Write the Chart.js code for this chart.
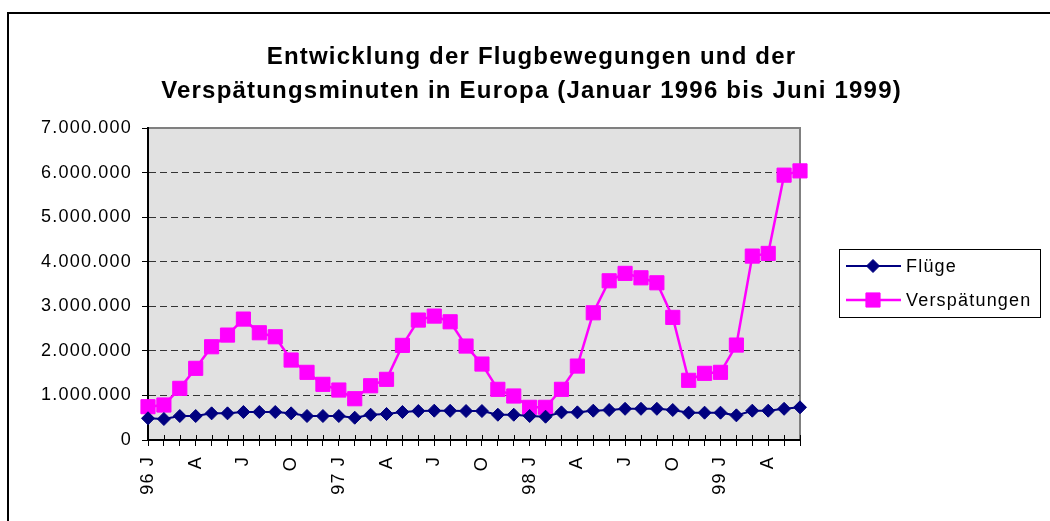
<!DOCTYPE html>
<html>
<head>
<meta charset="utf-8">
<script src="https://cdn.jsdelivr.net/npm/chart.js"></script>
<style>
  body { margin: 0; background: #fff; }
  canvas { display: block; }
</style>
</head>
<body>
<canvas id="grafico" width="1050" height="521"></canvas>
<script>
const monate = [
  '96 J', '', '', 'A', '', '', 'J', '', '', 'O', '', '',
  '97 J', '', '', 'A', '', '', 'J', '', '', 'O', '', '',
  '98 J', '', '', 'A', '', '', 'J', '', '', 'O', '', '',
  '99 J', '', '', 'A', '', ''
];

const fluege = [
  487000, 471000, 538000, 538000, 598000, 598000, 628000, 628000, 628000, 598000, 538000, 538000,
  538000, 500000, 567000, 583000, 628000, 650000, 658000, 655000, 650000, 650000, 567000, 567000,
  538000, 523000, 620000, 620000, 658000, 673000, 700000, 700000, 700000, 673000, 613000, 613000,
  613000, 553000, 658000, 658000, 700000, 733000
];

const verspaetungen = [
  747000, 785000, 1159000, 1608000, 2092000, 2354000, 2713000, 2406000, 2316000, 1794000, 1518000, 1249000,
  1121000, 926000, 1217000, 1361000, 2123000, 2691000, 2780000, 2652000, 2108000, 1704000, 1137000, 987000,
  733000, 733000, 1137000, 1659000, 2854000, 3572000, 3738000, 3639000, 3527000, 2751000, 1339000, 1496000,
  1518000, 2130000, 4126000, 4186000, 5942000, 6038000
];

const titel = [
  'Entwicklung der Flugbewegungen und der',
  'Verspätungsminuten in Europa (Januar 1996 bis Juni 1999)'
];

const fonte = '"Liberation Sans", Arial, sans-serif';
Chart.defaults.font.family = fonte;
Chart.defaults.color = '#000';

// fundo branco, moldura externa e area do grafico
const fundo = {
  id: 'fundo',
  beforeDraw(chart) {
    const c = chart.ctx;
    const a = chart.chartArea;
    c.save();
    c.fillStyle = '#fff';
    c.fillRect(0, 0, chart.width, chart.height);
    c.strokeStyle = '#000';
    c.lineWidth = 2;
    c.strokeRect(8, 13, 1200, 700);
    c.fillStyle = '#e1e1e1';
    c.fillRect(a.left, a.top, a.right - a.left, a.bottom - a.top);
    c.strokeStyle = '#808080';
    c.lineWidth = 2;
    c.strokeRect(a.left, a.top, a.right - a.left, a.bottom - a.top);
    c.restore();
    c.letterSpacing = '1.2px';
  }
};

// marcas do eixo x cruzando o eixo + legenda com caixa
const extras = {
  id: 'extras',
  afterDraw(chart) {
    const c = chart.ctx;
    const x = chart.scales.x;
    const fundoY = chart.chartArea.bottom;
    c.save();
    c.strokeStyle = '#000';
    c.lineWidth = 1;
    c.beginPath();
    x.ticks.forEach((t, i) => {
      const px = Math.round(x.getPixelForTick(i)) + 0.5;
      c.moveTo(px, fundoY - 5);
      c.lineTo(px, fundoY);
    });
    c.stroke();

    // legenda
    c.lineWidth = 1;
    c.strokeStyle = '#000';
    c.strokeRect(839.5, 249.5, 201, 68);
    const linhasY = [266, 300];
    chart.data.datasets.forEach((ds, i) => {
      const y = linhasY[i];
      c.strokeStyle = ds.borderColor;
      c.lineWidth = ds.borderWidth;
      c.beginPath();
      c.moveTo(846, y);
      c.lineTo(901, y);
      c.stroke();
      c.fillStyle = ds.pointBackgroundColor;
      c.strokeStyle = ds.pointBorderColor;
      c.lineWidth = 1;
      Chart.helpers.drawPoint(c, {
        pointStyle: ds.pointStyle,
        radius: ds.pointRadius,
        rotation: 0,
        borderWidth: 1
      }, 873, y);
      c.fillStyle = '#000';
      c.font = '18px ' + fonte;
      c.textBaseline = 'middle';
      c.textAlign = 'left';
      c.fillText(ds.label, 906, y + 1);
    });
    c.restore();
  }
};

new Chart(document.getElementById('grafico'), {
  type: 'line',
  data: {
    labels: monate,
    datasets: [{
      label: 'Flüge',
      data: fluege,
      borderColor: '#000080',
      backgroundColor: '#000080',
      pointBackgroundColor: '#000080',
      pointBorderColor: '#000080',
      borderWidth: 2,
      pointStyle: 'rectRot',
      pointRadius: 6.5,
      pointBorderWidth: 1,
      tension: 0
    }, {
      label: 'Verspätungen',
      data: verspaetungen,
      borderColor: '#ff00ff',
      backgroundColor: '#ff00ff',
      pointBackgroundColor: '#ff00ff',
      pointBorderColor: '#ff00ff',
      borderWidth: 2.5,
      pointStyle: 'rect',
      pointRadius: 10,
      pointBorderWidth: 1,
      tension: 0
    }]
  },
  options: {
    responsive: false,
    maintainAspectRatio: false,
    animation: false,
    layout: { padding: { left: 13, right: 0, top: 0, bottom: 0 } },
    plugins: {
      legend: { display: false },
      tooltip: { enabled: false },
      title: {
        display: true,
        text: titel,
        color: '#000',
        font: { size: 24, weight: 'bold', lineHeight: '34.5px' },
        padding: { top: 40, bottom: 19 }
      }
    },
    scales: {
      x: {
        offset: false,
        afterFit(s) { s.height = 81; },
        grid: {
          drawOnChartArea: false,
          tickLength: 6,
          tickColor: '#000',
          offset: false
        },
        border: { display: true, color: '#000', width: 2 },
        ticks: {
          autoSkip: false,
          maxRotation: 90,
          minRotation: 90,
          padding: 10,
          color: '#000',
          font: { size: 18 }
        }
      },
      y: {
        min: 0,
        max: 7000000,
        afterFit(s) { s.width = 135; },
        grid: {
          color: (ctx) => (ctx.tick && (ctx.tick.value === 0 || ctx.tick.value === 7000000)) ? 'rgba(0,0,0,0)' : '#333',
          lineWidth: 1,
          tickLength: 6,
          tickColor: '#000'
        },
        border: { display: true, color: '#000', width: 2, dash: [7, 4] },
        ticks: {
          stepSize: 1000000,
          padding: 10,
          color: '#000',
          font: { size: 18 },
          callback: (v) => v.toLocaleString('de-DE')
        }
      },
      platz: {
        type: 'linear',
        position: 'right',
        display: true,
        afterFit(s) { s.width = 250; },
        grid: { display: false },
        border: { display: false },
        ticks: { display: false }
      }
    }
  },
  plugins: [fundo, extras]
});
</script>
</body>
</html>
